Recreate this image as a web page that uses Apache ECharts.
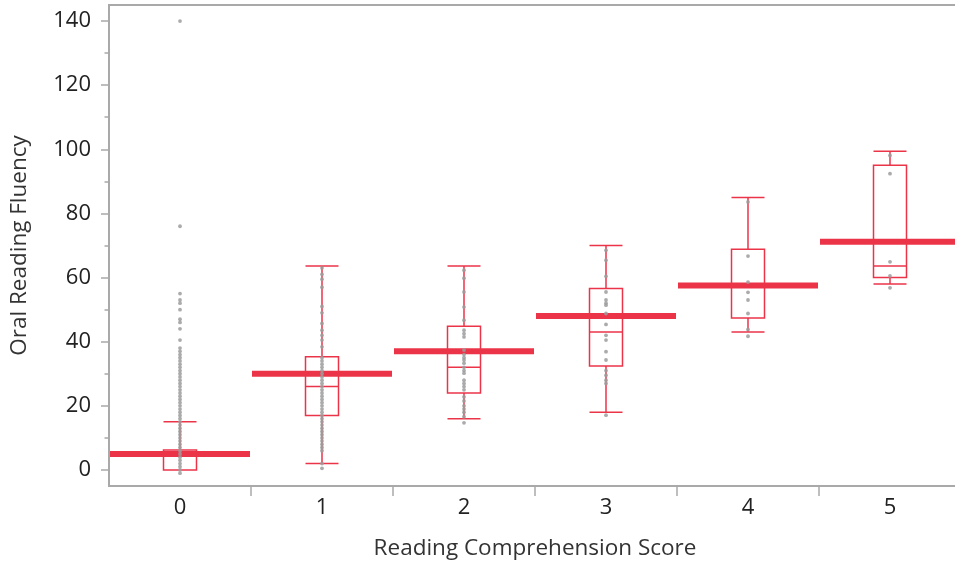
<!DOCTYPE html>
<html>
<head>
<meta charset="utf-8">
<script src="https://cdn.jsdelivr.net/npm/echarts@6/dist/echarts.min.js"></script>
<style>
  html, body { margin: 0; padding: 0; background: #ffffff; }
  #chart { width: 955px; height: 569px; }
</style>
</head>
<body>
<div id="chart"></div>
<script>
// Reading comprehension score groups
const categories = ['0', '1', '2', '3', '4', '5'];

// Box statistics per group: [lower whisker, Q1, median, Q3, upper whisker]
const boxStats = [
  [0, 0, 5, 6.2, 15],
  [2, 17, 26, 35.3, 63.6],
  [16, 24, 32, 44.8, 63.6],
  [18, 32.4, 43, 56.6, 70],
  [43, 47.4, 57.5, 68.8, 85],
  [58, 60, 63.6, 95, 99.4]
];

// Group means (thick bars)
const means = [5, 30, 37, 48, 57.5, 71.2];

// Individual oral reading fluency scores per group
const scores0 = [140, 76, 55, 53, 52, 50, 47, 46, 44, 40.5, 38, 37, 36, 35, 34, 33, 32, 31, 30,
  29, 28, 27, 26, 25, 24, 23, 22, 21, 20, 19, 18, 17, 16, 15, 14, 13, 12, 11, 10, 9, 8, 7, 6,
  5, 4, 3, 2, 1, 0, -1];
const scores1 = [63, 61, 59.5, 57, 51, 49, 45.7, 43.6, 42, 40.5, 38.4, 35, 34, 33, 32, 31, 30,
  29, 28, 27, 26, 25, 24, 23, 22, 21, 20, 19, 18, 17, 16, 15, 14, 13, 12, 11, 10, 9, 8, 7, 6,
  2, 0.5];
const scores2 = [62.3, 59.8, 55.5, 50.8, 46.7, 43.6, 42.5, 41.5, 37.4, 36, 35, 34.3, 33.3, 32,
  31, 30.2, 28, 27, 26, 25, 22.8, 21.5, 20, 19, 18, 16.6, 14.7];
const scores3 = [68.5, 65.4, 60.4, 55.5, 53, 52, 51.4, 48.8, 45.4, 42, 40.5, 36.9, 34.3, 31,
  29.5, 28, 27, 17.1];
const scores4 = [83.6, 66.7, 58.6, 55.4, 53, 48.8, 43.8, 41.7];
const scores5 = [98.1, 92.4, 64.9, 60.5, 56.8];

// Axis tick values
const yLabelValues = [0, 20, 40, 60, 80, 100, 120, 140];
const yMinorValues = [10, 30, 50, 70, 90, 110, 130];
const xBoundaryValues = [0.5, 1.5, 2.5, 3.5, 4.5];

const groups = [scores0, scores1, scores2, scores3, scores4, scores5];
const pointData = [];
groups.forEach((list, i) => list.forEach(v => pointData.push([i, v])));
const meanData = means.map((m, i) => [i, m]);

const RED = '#ec3449';
const AXIS_GRAY = '#a9a9a9';
const FONT = 'Open Sans';

const chart = echarts.init(document.getElementById('chart'), null, { renderer: 'canvas' });

chart.setOption({
  animation: false,
  backgroundColor: '#ffffff',
  grid: {
    left: 109, top: 5, width: 852, height: 481,
    outerBoundsMode: 'none',
    containLabel: false,
    show: true, borderColor: AXIS_GRAY, borderWidth: 2, backgroundColor: 'transparent'
  },
  xAxis: [
    {
      type: 'category',
      data: categories,
      boundaryGap: true,
      position: 'bottom',
      axisLine: { onZero: false, lineStyle: { color: AXIS_GRAY, width: 2 } },
      axisTick: { show: false },
      axisLabel: { color: '#222', fontFamily: FONT, fontSize: 22, margin: 11 },
      splitLine: { show: false },
      name: 'Reading Comprehension Score',
      nameLocation: 'middle',
      nameGap: 51,
      nameTextStyle: { color: '#333', fontFamily: FONT, fontSize: 22.5 }
    },
    {
      type: 'value',
      min: -0.5, max: 5.5,
      position: 'bottom',
      axisLine: { show: false, onZero: false },
      axisLabel: { show: false },
      splitLine: { show: false },
      axisTick: {
        show: true, customValues: xBoundaryValues, length: 10,
        lineStyle: { color: AXIS_GRAY, width: 1.5 }
      }
    }
  ],
  yAxis: [
    {
      type: 'value',
      min: -5, max: 145,
      position: 'left',
      axisLine: { show: true, onZero: false, lineStyle: { color: AXIS_GRAY, width: 2 } },
      axisTick: {
        show: true, customValues: yLabelValues, length: 8,
        lineStyle: { color: AXIS_GRAY, width: 1.5 }
      },
      axisLabel: { customValues: yLabelValues, color: '#222', fontFamily: FONT, fontSize: 22, margin: 18 },
      splitLine: { show: false },
      name: 'Oral Reading Fluency',
      nameLocation: 'middle',
      nameGap: 78,
      nameTextStyle: { color: '#333', fontFamily: FONT, fontSize: 22.5 }
    },
    {
      type: 'value',
      min: -5, max: 145,
      position: 'left',
      axisLine: { show: false, onZero: false },
      axisLabel: { show: false },
      splitLine: { show: false },
      axisTick: {
        show: true, customValues: yMinorValues, length: 4.5,
        lineStyle: { color: AXIS_GRAY, width: 1.5 }
      }
    }
  ],
  series: [
    {
      type: 'boxplot',
      xAxisIndex: 0, yAxisIndex: 0,
      data: boxStats,
      boxWidth: [33, 33],
      itemStyle: { color: 'transparent', borderColor: RED, borderWidth: 1.5 },
      emphasis: { disabled: true },
      z: 2
    },
    {
      type: 'custom',
      xAxisIndex: 0, yAxisIndex: 0,
      data: meanData,
      clip: false,
      renderItem: function (params, api) {
        const c = api.coord([api.value(0), api.value(1)]);
        const w = api.size([1, 0])[0];
        return {
          type: 'line',
          shape: { x1: c[0] - w / 2 + 1, y1: c[1], x2: c[0] + w / 2 - 1, y2: c[1] },
          style: { stroke: RED, lineWidth: 6 }
        };
      },
      z: 3
    },
    {
      type: 'scatter',
      xAxisIndex: 0, yAxisIndex: 0,
      data: pointData,
      symbol: 'circle',
      symbolSize: 3.8,
      itemStyle: { color: '#9c9c9c', opacity: 0.85 },
      emphasis: { disabled: true },
      z: 4
    }
  ]
});
</script>
</body>
</html>
